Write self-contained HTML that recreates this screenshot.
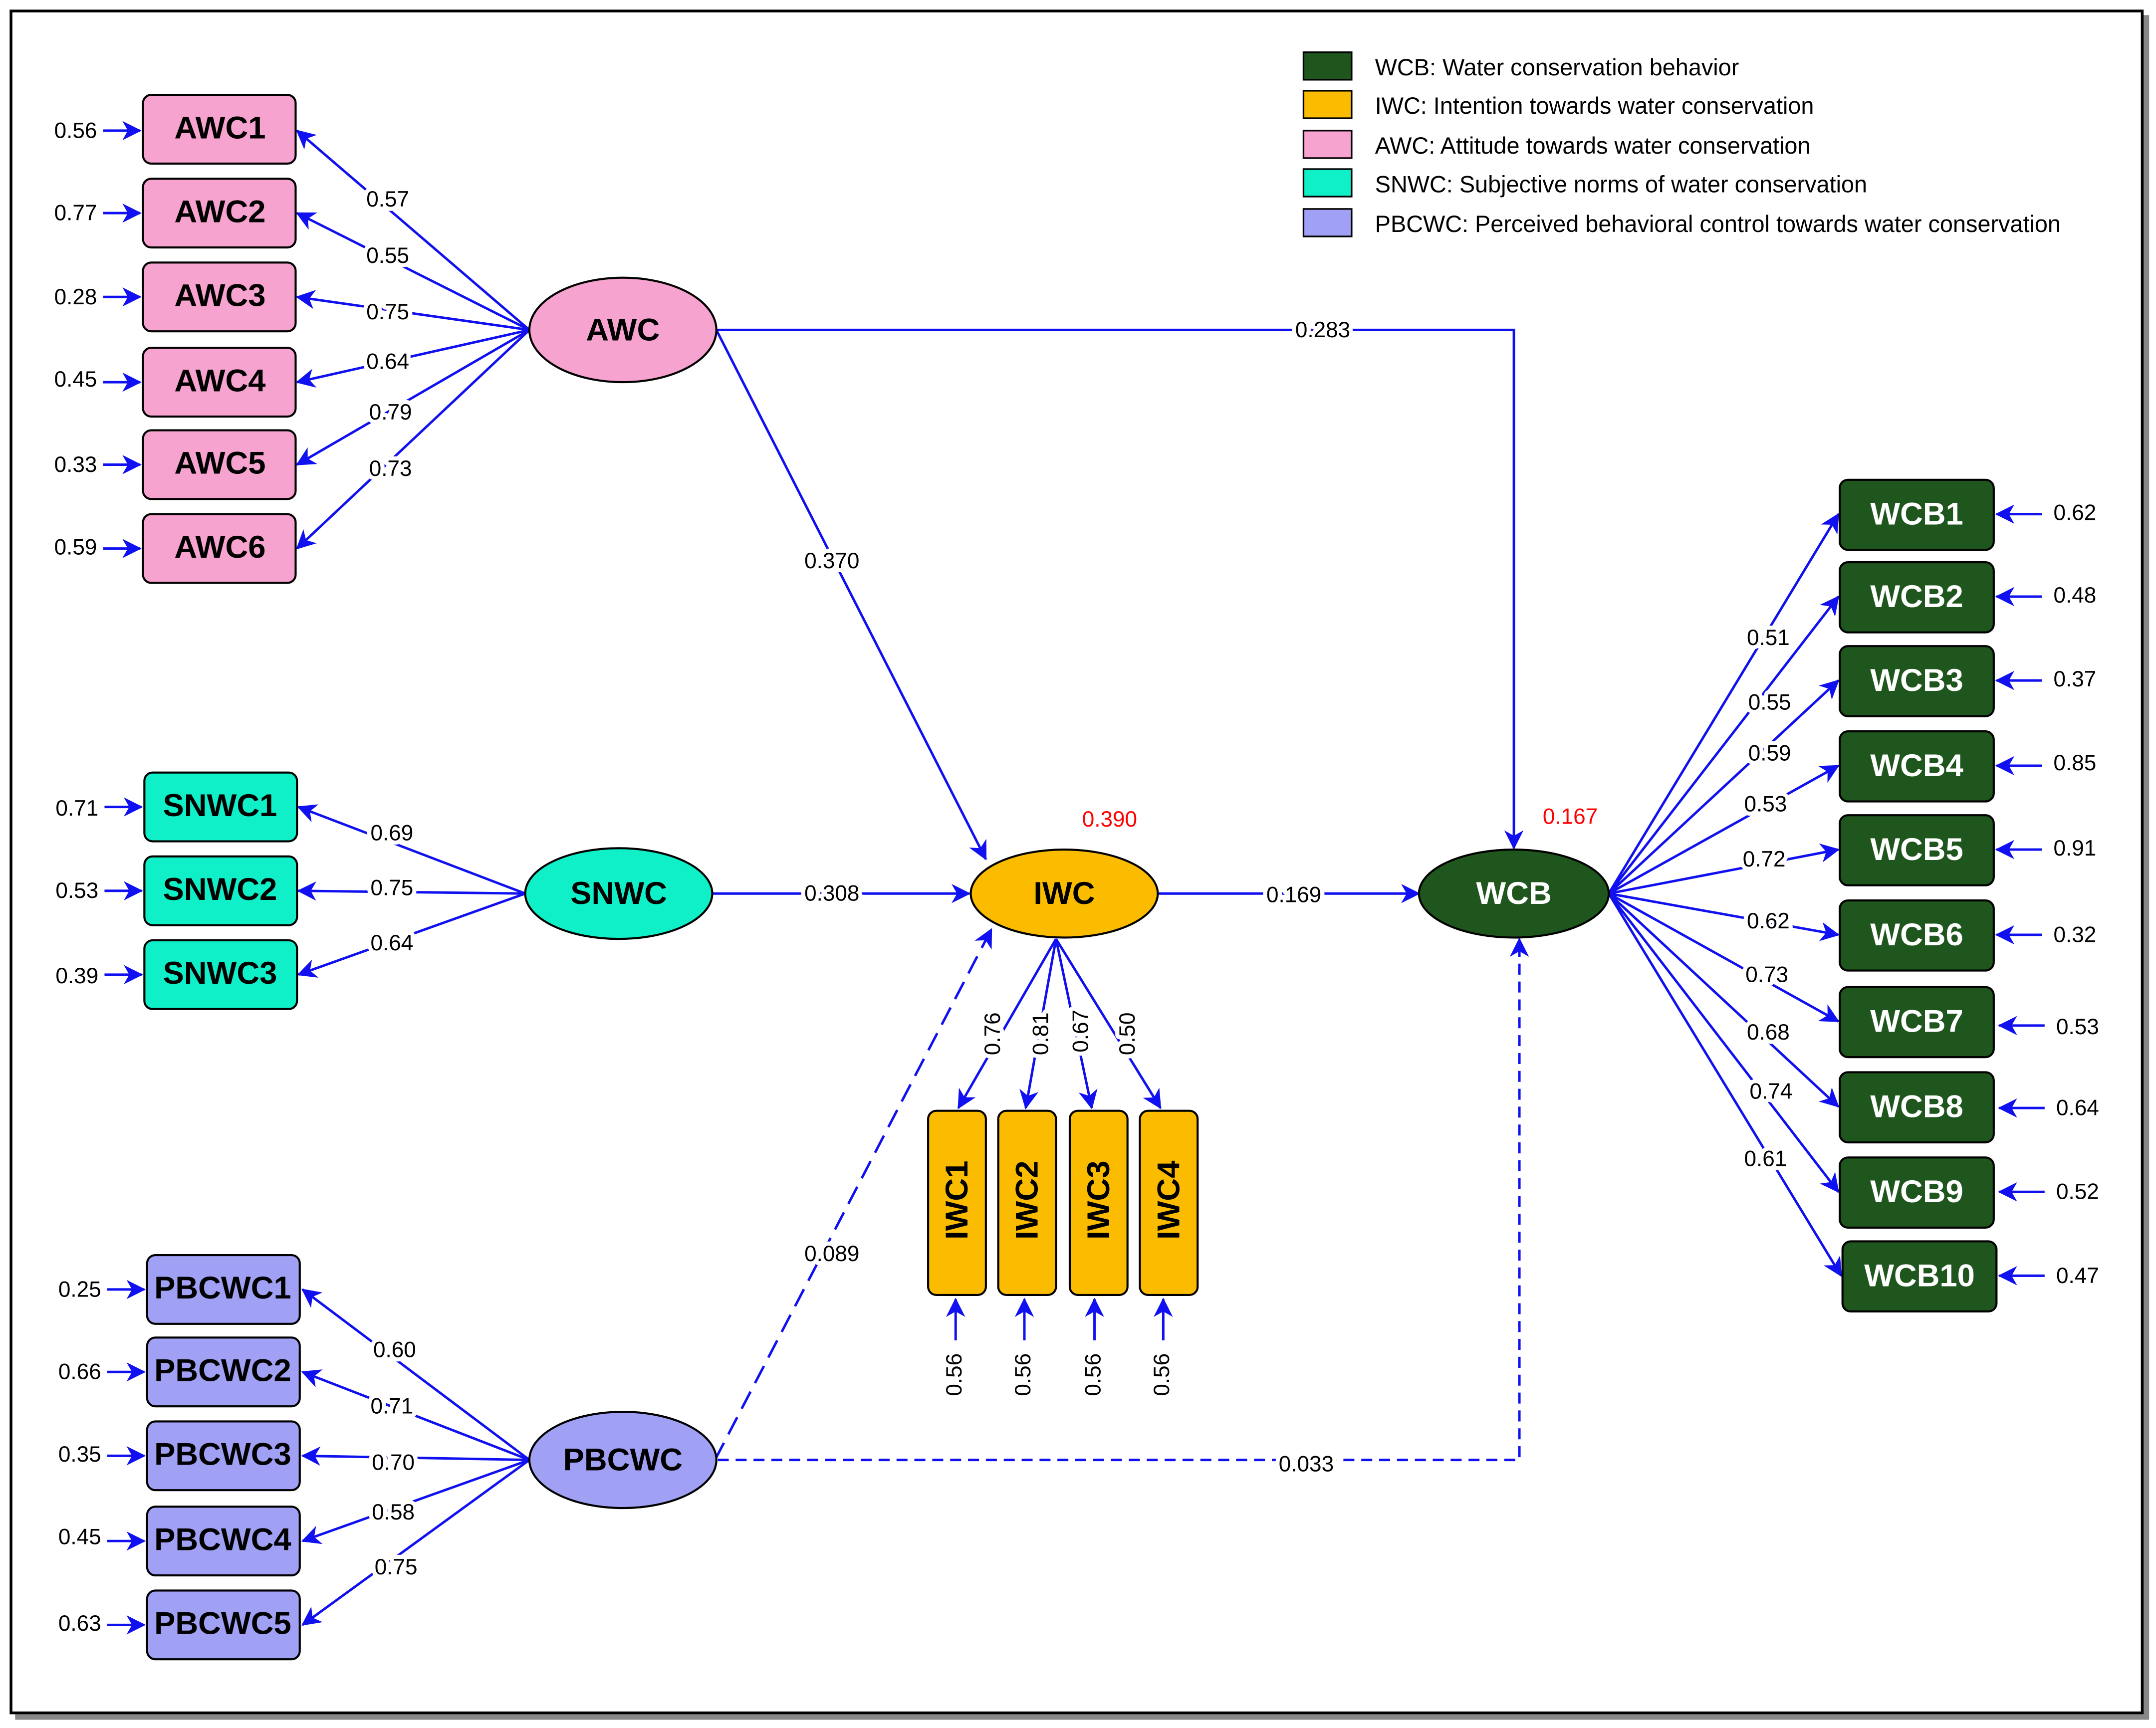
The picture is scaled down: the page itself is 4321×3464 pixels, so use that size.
<!DOCTYPE html>
<html><head><meta charset="utf-8"><style>
html,body{margin:0;padding:0;background:#fff}
svg{display:block}
text{font-family:"Liberation Sans",Arial,sans-serif}
.lb{font-size:16px;fill:#000;text-anchor:middle;dominant-baseline:central;paint-order:stroke;stroke:#fff;stroke-width:6px;stroke-linejoin:round}
.bx{font-size:23px;font-weight:bold;text-anchor:middle;dominant-baseline:central}
.ln{stroke:#1010f0;stroke-width:1.8;fill:none}
.lg{font-size:17px;dominant-baseline:central}
</style></head><body>
<svg width="4321" height="3464" viewBox="0 0 1568 1257" xmlns="http://www.w3.org/2000/svg">
<defs>
<marker id="b" viewBox="0 0 14 14" refX="13" refY="7" markerWidth="14" markerHeight="14" orient="auto" markerUnits="userSpaceOnUse">
<path d="M0,0 L14,7 L0,14 L4,7 z" fill="#1010f0"/>
</marker>
</defs>
<rect x="0" y="0" width="1568" height="1257" fill="#fff"/>
<rect x="11" y="11" width="1552" height="1240" fill="#888"/>
<rect x="8" y="8" width="1550" height="1238" fill="#fff" stroke="#000" stroke-width="2"/>

<g stroke="#000" stroke-width="1.2">
<rect x="948" y="38" width="35" height="20" fill="#1e561e"/>
<rect x="948" y="66" width="35" height="20" fill="#fbbc00"/>
<rect x="948" y="95" width="35" height="20" fill="#f7a3cf"/>
<rect x="948" y="123" width="35" height="20" fill="#10f0c8"/>
<rect x="948" y="152" width="35" height="20" fill="#a0a0f5"/>
</g>
<text class="lg" x="1000" y="49">WCB: Water conservation behavior</text>
<text class="lg" x="1000" y="77">IWC: Intention towards water conservation</text>
<text class="lg" x="1000" y="106">AWC: Attitude towards water conservation</text>
<text class="lg" x="1000" y="134">SNWC: Subjective norms of water conservation</text>
<text class="lg" x="1000" y="163">PBCWC: Perceived behavioral control towards water conservation</text>

<polyline class="ln" points="521,240 1101,240 1101,617" marker-end="url(#b)"/>
<line class="ln" x1="521" y1="240" x2="717" y2="625" marker-end="url(#b)"/>
<line class="ln" x1="518" y1="650" x2="705" y2="650" marker-end="url(#b)"/>
<line class="ln" x1="842" y1="650" x2="1032" y2="650" marker-end="url(#b)"/>
<line class="ln" x1="520" y1="1062" x2="721" y2="676" stroke-dasharray="14,7" marker-end="url(#b)"/>
<polyline class="ln" points="522,1062 1105,1062 1105,683" stroke-dasharray="8,5" marker-end="url(#b)"/>

<g class="ln">
<line x1="385" y1="240" x2="216" y2="95" marker-end="url(#b)"/>
<line x1="385" y1="240" x2="216" y2="155" marker-end="url(#b)"/>
<line x1="385" y1="240" x2="216" y2="216" marker-end="url(#b)"/>
<line x1="385" y1="240" x2="216" y2="278" marker-end="url(#b)"/>
<line x1="385" y1="240" x2="216" y2="338" marker-end="url(#b)"/>
<line x1="385" y1="240" x2="216" y2="399" marker-end="url(#b)"/>
<line x1="382" y1="650" x2="217" y2="587" marker-end="url(#b)"/>
<line x1="382" y1="650" x2="217" y2="648" marker-end="url(#b)"/>
<line x1="382" y1="650" x2="217" y2="709" marker-end="url(#b)"/>
<line x1="385" y1="1062" x2="220" y2="938" marker-end="url(#b)"/>
<line x1="385" y1="1062" x2="220" y2="998" marker-end="url(#b)"/>
<line x1="385" y1="1062" x2="220" y2="1059" marker-end="url(#b)"/>
<line x1="385" y1="1062" x2="220" y2="1121" marker-end="url(#b)"/>
<line x1="385" y1="1062" x2="220" y2="1182" marker-end="url(#b)"/>
<line x1="1170" y1="650" x2="1337" y2="374" marker-end="url(#b)"/>
<line x1="1170" y1="650" x2="1337" y2="434" marker-end="url(#b)"/>
<line x1="1170" y1="650" x2="1337" y2="495" marker-end="url(#b)"/>
<line x1="1170" y1="650" x2="1337" y2="557" marker-end="url(#b)"/>
<line x1="1170" y1="650" x2="1337" y2="618" marker-end="url(#b)"/>
<line x1="1170" y1="650" x2="1337" y2="680" marker-end="url(#b)"/>
<line x1="1170" y1="650" x2="1337" y2="743" marker-end="url(#b)"/>
<line x1="1170" y1="650" x2="1337" y2="805" marker-end="url(#b)"/>
<line x1="1170" y1="650" x2="1337" y2="867" marker-end="url(#b)"/>
<line x1="1170" y1="650" x2="1339" y2="928" marker-end="url(#b)"/>
<line x1="768" y1="683" x2="697" y2="806" marker-end="url(#b)"/>
<line x1="768" y1="683" x2="746" y2="806" marker-end="url(#b)"/>
<line x1="768" y1="683" x2="794" y2="806" marker-end="url(#b)"/>
<line x1="768" y1="683" x2="844" y2="806" marker-end="url(#b)"/>
<line x1="75" y1="95" x2="102" y2="95" marker-end="url(#b)"/>
<line x1="75" y1="155" x2="102" y2="155" marker-end="url(#b)"/>
<line x1="75" y1="216" x2="102" y2="216" marker-end="url(#b)"/>
<line x1="75" y1="278" x2="102" y2="278" marker-end="url(#b)"/>
<line x1="75" y1="338" x2="102" y2="338" marker-end="url(#b)"/>
<line x1="75" y1="399" x2="102" y2="399" marker-end="url(#b)"/>
<line x1="76" y1="587" x2="103" y2="587" marker-end="url(#b)"/>
<line x1="76" y1="648" x2="103" y2="648" marker-end="url(#b)"/>
<line x1="76" y1="709" x2="103" y2="709" marker-end="url(#b)"/>
<line x1="78" y1="938" x2="105" y2="938" marker-end="url(#b)"/>
<line x1="78" y1="998" x2="105" y2="998" marker-end="url(#b)"/>
<line x1="78" y1="1059" x2="105" y2="1059" marker-end="url(#b)"/>
<line x1="78" y1="1121" x2="105" y2="1121" marker-end="url(#b)"/>
<line x1="78" y1="1182" x2="105" y2="1182" marker-end="url(#b)"/>
<line x1="1485" y1="374" x2="1452" y2="374" marker-end="url(#b)"/>
<line x1="1485" y1="434" x2="1452" y2="434" marker-end="url(#b)"/>
<line x1="1485" y1="495" x2="1452" y2="495" marker-end="url(#b)"/>
<line x1="1485" y1="557" x2="1452" y2="557" marker-end="url(#b)"/>
<line x1="1485" y1="618" x2="1452" y2="618" marker-end="url(#b)"/>
<line x1="1485" y1="680" x2="1452" y2="680" marker-end="url(#b)"/>
<line x1="1487" y1="746" x2="1454" y2="746" marker-end="url(#b)"/>
<line x1="1487" y1="806" x2="1454" y2="806" marker-end="url(#b)"/>
<line x1="1487" y1="867" x2="1454" y2="867" marker-end="url(#b)"/>
<line x1="1487" y1="928" x2="1454" y2="928" marker-end="url(#b)"/>
<line x1="695" y1="975" x2="695" y2="945" marker-end="url(#b)"/>
<line x1="745" y1="975" x2="745" y2="945" marker-end="url(#b)"/>
<line x1="796" y1="975" x2="796" y2="945" marker-end="url(#b)"/>
<line x1="846" y1="975" x2="846" y2="945" marker-end="url(#b)"/>
</g>

<g stroke="#000" stroke-width="1.5">
<ellipse cx="453" cy="240" rx="68" ry="38" fill="#f7a3cf"/>
<ellipse cx="450" cy="650" rx="68" ry="33" fill="#10f0c8"/>
<ellipse cx="453" cy="1062" rx="68" ry="35" fill="#a0a0f5"/>
<ellipse cx="774" cy="650" rx="68" ry="32" fill="#fbbc00"/>
<ellipse cx="1101" cy="650" rx="69" ry="32" fill="#1e561e"/>
</g>
<text class="bx" x="453" y="240">AWC</text>
<text class="bx" x="450" y="650">SNWC</text>
<text class="bx" x="453" y="1062">PBCWC</text>
<text class="bx" x="774" y="650">IWC</text>
<text class="bx" x="1101" y="650" fill="#fff">WCB</text>

<g stroke="#000" stroke-width="1.5" fill="#f7a3cf">
<rect x="104" y="69" width="111" height="50" rx="6"/>
<rect x="104" y="130" width="111" height="50" rx="6"/>
<rect x="104" y="191" width="111" height="50" rx="6"/>
<rect x="104" y="253" width="111" height="50" rx="6"/>
<rect x="104" y="313" width="111" height="50" rx="6"/>
<rect x="104" y="374" width="111" height="50" rx="6"/>
</g>
<text class="bx" x="160" y="93">AWC1</text><text class="bx" x="160" y="154">AWC2</text>
<text class="bx" x="160" y="215">AWC3</text><text class="bx" x="160" y="277">AWC4</text>
<text class="bx" x="160" y="337">AWC5</text><text class="bx" x="160" y="398">AWC6</text>
<g stroke="#000" stroke-width="1.5" fill="#10f0c8">
<rect x="105" y="562" width="111" height="50" rx="6"/>
<rect x="105" y="623" width="111" height="50" rx="6"/>
<rect x="105" y="684" width="111" height="50" rx="6"/>
</g>
<text class="bx" x="160" y="586">SNWC1</text><text class="bx" x="160" y="647">SNWC2</text><text class="bx" x="160" y="708">SNWC3</text>
<g stroke="#000" stroke-width="1.5" fill="#a0a0f5">
<rect x="107" y="913" width="111" height="50" rx="6"/>
<rect x="107" y="973" width="111" height="50" rx="6"/>
<rect x="107" y="1034" width="111" height="50" rx="6"/>
<rect x="107" y="1096" width="111" height="50" rx="6"/>
<rect x="107" y="1157" width="111" height="50" rx="6"/>
</g>
<text class="bx" x="162" y="937">PBCWC1</text><text class="bx" x="162" y="997">PBCWC2</text>
<text class="bx" x="162" y="1058">PBCWC3</text><text class="bx" x="162" y="1120">PBCWC4</text><text class="bx" x="162" y="1181">PBCWC5</text>
<g stroke="#000" stroke-width="1.5" fill="#1e561e">
<rect x="1338" y="349" width="112" height="51" rx="6"/>
<rect x="1338" y="409" width="112" height="51" rx="6"/>
<rect x="1338" y="470" width="112" height="51" rx="6"/>
<rect x="1338" y="532" width="112" height="51" rx="6"/>
<rect x="1338" y="593" width="112" height="51" rx="6"/>
<rect x="1338" y="655" width="112" height="51" rx="6"/>
<rect x="1338" y="718" width="112" height="51" rx="6"/>
<rect x="1338" y="780" width="112" height="51" rx="6"/>
<rect x="1338" y="842" width="112" height="51" rx="6"/>
<rect x="1340" y="903" width="112" height="51" rx="6"/>
</g>
<g fill="#fff">
<text class="bx" x="1394" y="374">WCB1</text><text class="bx" x="1394" y="434">WCB2</text>
<text class="bx" x="1394" y="495">WCB3</text><text class="bx" x="1394" y="557">WCB4</text>
<text class="bx" x="1394" y="618">WCB5</text><text class="bx" x="1394" y="680">WCB6</text>
<text class="bx" x="1394" y="743">WCB7</text><text class="bx" x="1394" y="805">WCB8</text>
<text class="bx" x="1394" y="867">WCB9</text><text class="bx" x="1396" y="928">WCB10</text>
</g>
<g stroke="#000" stroke-width="1.5" fill="#fbbc00">
<rect x="675" y="808" width="42" height="134" rx="6"/>
<rect x="726" y="808" width="42" height="134" rx="6"/>
<rect x="778" y="808" width="42" height="134" rx="6"/>
<rect x="829" y="808" width="42" height="134" rx="6"/>
</g>
<text class="bx" transform="translate(696,873) rotate(-90)">IWC1</text>
<text class="bx" transform="translate(747,873) rotate(-90)">IWC2</text>
<text class="bx" transform="translate(799,873) rotate(-90)">IWC3</text>
<text class="bx" transform="translate(850,873) rotate(-90)">IWC4</text>

<text class="lb" x="962" y="240">0.283</text>
<text class="lb" x="605" y="408">0.370</text>
<text class="lb" x="605" y="650">0.308</text>
<text class="lb" x="941" y="651">0.169</text>
<text class="lb" x="605" y="912">0.089</text>
<text class="lb" x="950" y="1065">0.033</text>
<text class="lb" x="807" y="596" style="fill:#f00">0.390</text>
<text class="lb" x="1142" y="594" style="fill:#f00">0.167</text>
<text class="lb" x="282" y="145">0.57</text><text class="lb" x="282" y="186">0.55</text>
<text class="lb" x="282" y="227">0.75</text><text class="lb" x="282" y="263">0.64</text>
<text class="lb" x="284" y="300">0.79</text><text class="lb" x="284" y="341">0.73</text>
<text class="lb" x="285" y="606">0.69</text><text class="lb" x="285" y="646">0.75</text><text class="lb" x="285" y="686">0.64</text>
<text class="lb" x="287" y="982">0.60</text><text class="lb" x="285" y="1023">0.71</text>
<text class="lb" x="286" y="1064">0.70</text><text class="lb" x="286" y="1100">0.58</text><text class="lb" x="288" y="1140">0.75</text>
<text class="lb" x="1286" y="464">0.51</text><text class="lb" x="1287" y="511">0.55</text>
<text class="lb" x="1287" y="548">0.59</text><text class="lb" x="1284" y="585">0.53</text>
<text class="lb" x="1283" y="625">0.72</text><text class="lb" x="1286" y="670">0.62</text>
<text class="lb" x="1285" y="709">0.73</text><text class="lb" x="1286" y="751">0.68</text>
<text class="lb" x="1288" y="794">0.74</text><text class="lb" x="1284" y="843">0.61</text>
<text class="lb" transform="translate(722,752) rotate(-90)">0.76</text>
<text class="lb" transform="translate(757,752) rotate(-90)">0.81</text>
<text class="lb" transform="translate(786,750) rotate(-90)">0.67</text>
<text class="lb" transform="translate(820,752) rotate(-90)">0.50</text>
<text class="lb" transform="translate(694,1000) rotate(-90)">0.56</text>
<text class="lb" transform="translate(744,1000) rotate(-90)">0.56</text>
<text class="lb" transform="translate(795,1000) rotate(-90)">0.56</text>
<text class="lb" transform="translate(845,1000) rotate(-90)">0.56</text>
<text class="lb" x="55" y="95">0.56</text><text class="lb" x="55" y="155">0.77</text>
<text class="lb" x="55" y="216">0.28</text><text class="lb" x="55" y="276">0.45</text>
<text class="lb" x="55" y="338">0.33</text><text class="lb" x="55" y="398">0.59</text>
<text class="lb" x="56" y="588">0.71</text><text class="lb" x="56" y="648">0.53</text><text class="lb" x="56" y="710">0.39</text>
<text class="lb" x="58" y="938">0.25</text><text class="lb" x="58" y="998">0.66</text>
<text class="lb" x="58" y="1058">0.35</text><text class="lb" x="58" y="1118">0.45</text><text class="lb" x="58" y="1181">0.63</text>
<text class="lb" x="1509" y="373">0.62</text><text class="lb" x="1509" y="433">0.48</text>
<text class="lb" x="1509" y="494">0.37</text><text class="lb" x="1509" y="555">0.85</text>
<text class="lb" x="1509" y="617">0.91</text><text class="lb" x="1509" y="680">0.32</text>
<text class="lb" x="1511" y="747">0.53</text><text class="lb" x="1511" y="806">0.64</text>
<text class="lb" x="1511" y="867">0.52</text><text class="lb" x="1511" y="928">0.47</text>
</svg>
</body></html>
